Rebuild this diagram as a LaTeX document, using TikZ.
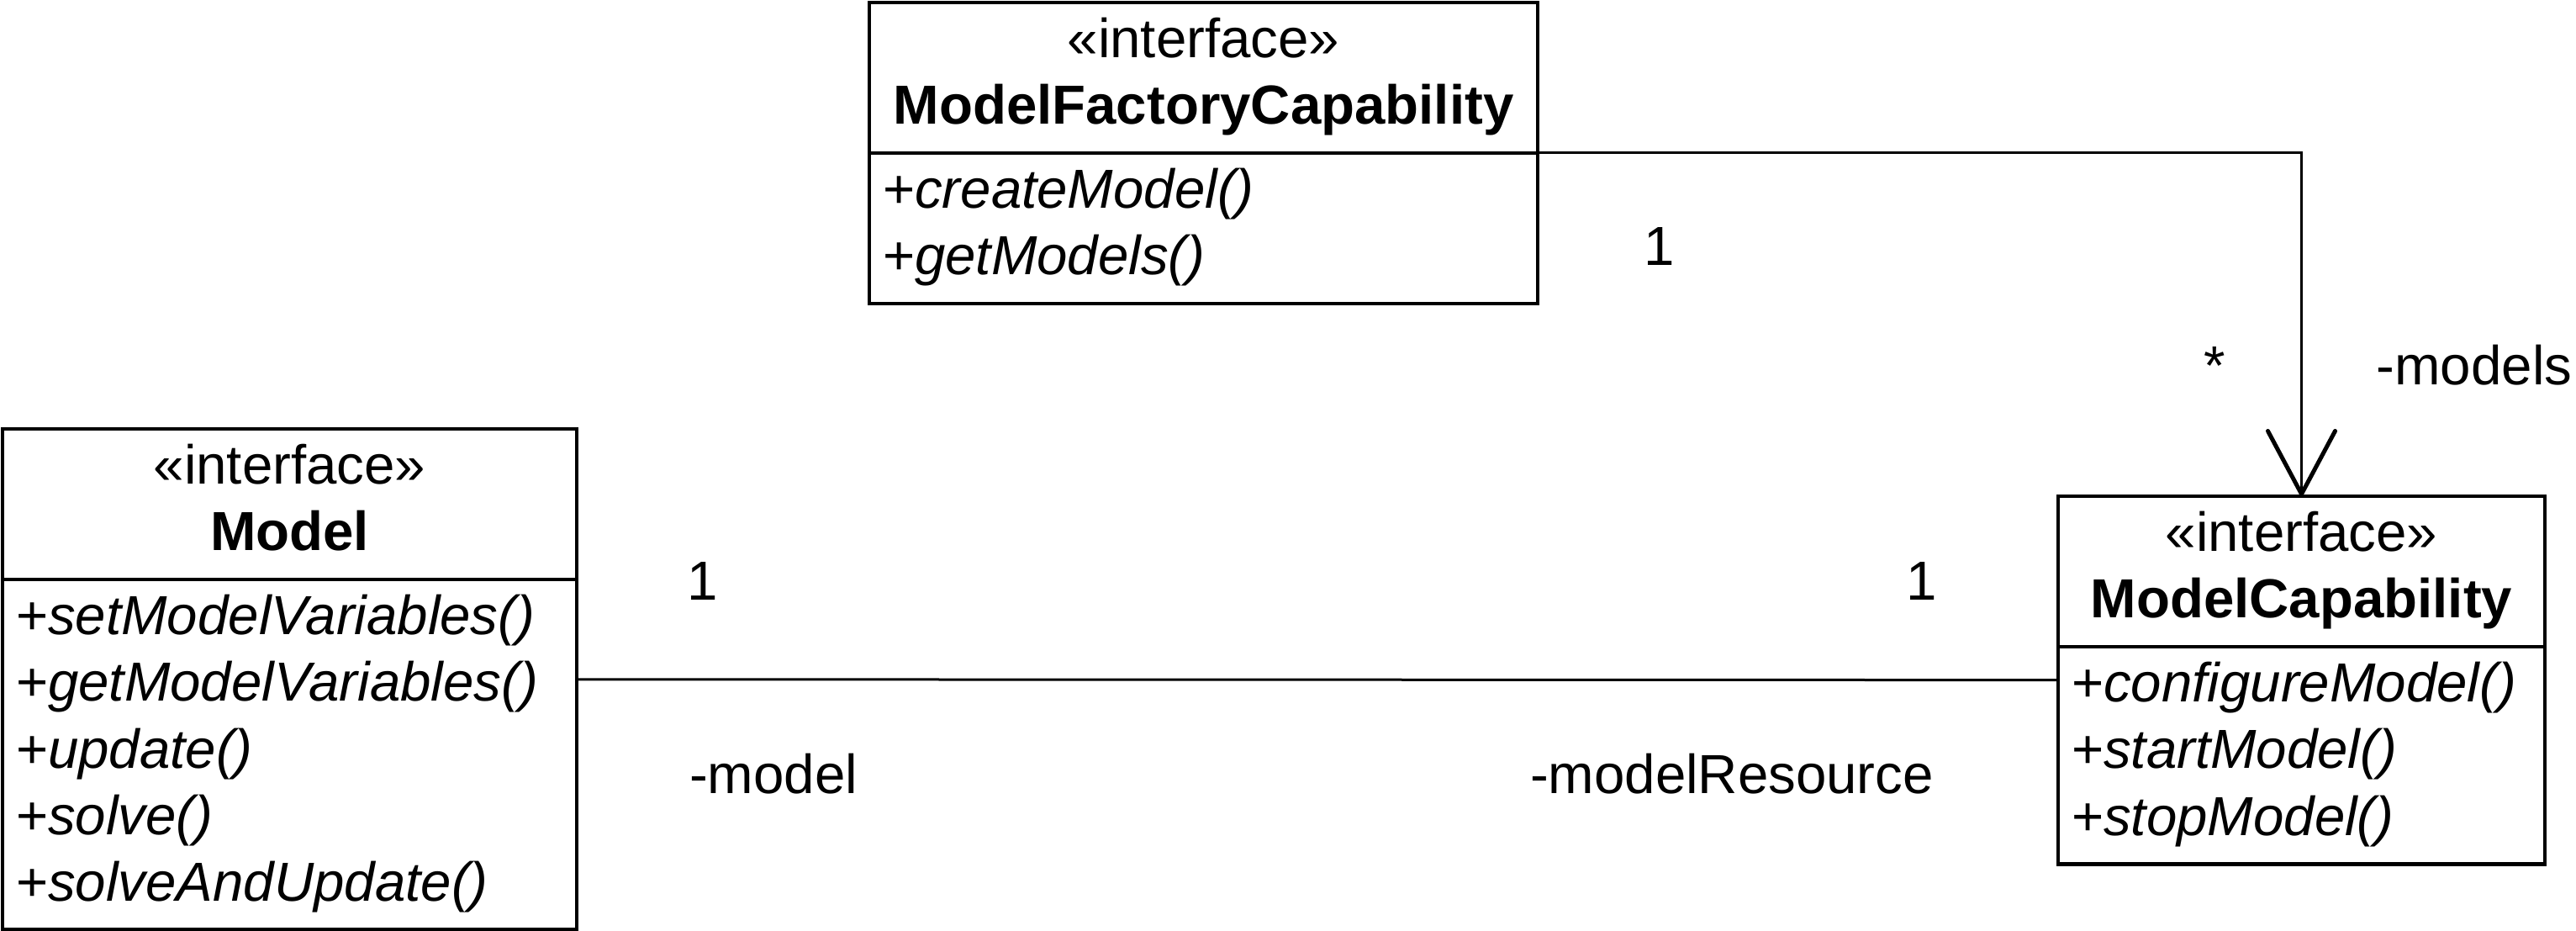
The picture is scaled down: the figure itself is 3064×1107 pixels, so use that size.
\documentclass[tikz,border=0pt]{standalone}
\usepackage{fontspec}
\setmainfont{Liberation Sans}
\usetikzlibrary{shapes.multipart,arrows.meta}
\tikzstyle{umlclass}=[draw=black,line width=2.3pt,rectangle split,rectangle split parts=2,
  rectangle split part align={center,left},inner xsep=8pt,inner ysep=4pt,outer sep=0pt,anchor=north west]
\tikzstyle{assoc}=[draw=black,line width=1.5pt]
\tikzstyle{mult}=[inner sep=0pt,anchor=base]

\begin{document}
\begin{tikzpicture}[x=0.5pt,y=-0.5pt,font=\fontsize{32.7}{39.6}\selectfont]
	  \useasboundingbox (0,0) rectangle (3064,1107);
	  % classes
	  \node[umlclass,minimum width=397.5pt] (factory) at (1034,3)
	    {\begin{tabular}{@{}c@{}}«interface»\\\textbf{ModelFactoryCapability}\end{tabular}
	     \nodepart{two}\begin{tabular}{@{}l@{}}+\textit{createModel()}\\+\textit{getModels()}\end{tabular}};
	  \node[umlclass,minimum width=341.5pt] (model) at (3,510)
	    {\begin{tabular}{@{}c@{}}«interface»\\\textbf{Model}\end{tabular}
	     \nodepart{two}\begin{tabular}{@{}l@{}}+\textit{setModelVariables()}\\+\textit{getModelVariables()}\\
	     +\textit{update()}\\+\textit{solve()}\\+\textit{solveAndUpdate()}\end{tabular}};
	  \node[umlclass,minimum width=289.5pt] (cap) at (2448,590)
	    {\begin{tabular}{@{}c@{}}«interface»\\\textbf{ModelCapability}\end{tabular}
	     \nodepart{two}\begin{tabular}{@{}l@{}}+\textit{configureModel()}\\+\textit{startModel()}\\+\textit{stopModel()}\end{tabular}};
	  % associations
	  \draw[assoc,-{Straight Barb[length=37.5pt,width=40pt,line width=2.5pt,round]}]
	    (factory.one split east) -| (cap.north);
	  \draw[assoc] (model.east) -- (cap.west);
	  % multiplicities and roles
	  \node[mult] (factoryend) at (1974,316) {1};
	  \node[mult] (capsend) at (2634,457) {*};
	  \node[mult] (capsrole) at (2943,457) {-models};
	  \node[mult] (modelend) at (836,713) {1};
	  \node[mult] (capend) at (2286,713) {1};
	  \node[mult] (modelrole) at (920,943) {-model};
	  \node[mult] (caprole) at (2060,943) {-modelResource};
	\end{tikzpicture}
\end{document}
